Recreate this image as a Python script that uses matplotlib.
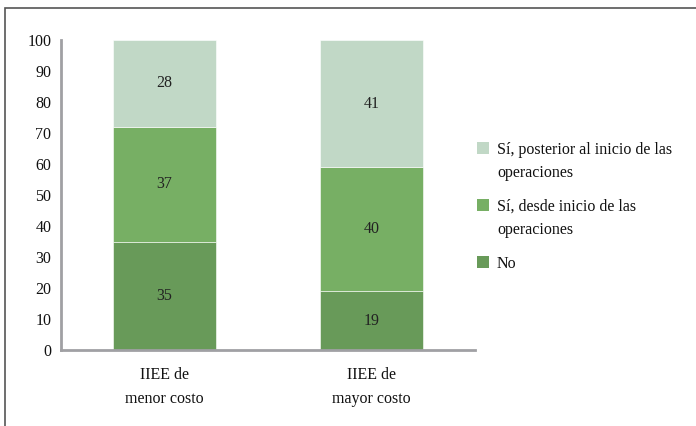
import matplotlib
matplotlib.use("Agg")
import matplotlib.pyplot as plt
from matplotlib.patches import Rectangle

categories = ["IIEE de\nmenor costo", "IIEE de\nmayor costo"]
series_names = ["No", "Sí, desde inicio de las\noperaciones", "Sí, posterior al inicio de las\noperaciones"]
no_vals = [35, 19]
desde_vals = [37, 40]
posterior_vals = [28, 41]
yticks = list(range(0, 101, 10))

colors = ["#689a59", "#77af64", "#c1d8c6"]

plt.rcParams["font.family"] = ["Liberation Serif", "DejaVu Serif"]
FS = 11.5
W, H = 696, 426

fig = plt.figure(figsize=(W / 100, H / 100), dpi=100)
ax = fig.add_axes([61 / W, 1 - 350 / H, (475 - 61) / W, (350 - 40) / H])

x = list(range(len(categories)))
bottoms = [0] * len(categories)
for vals, color, name in zip([no_vals, desde_vals, posterior_vals], colors, series_names):
    ax.bar(x, vals, width=0.5, bottom=bottoms, color=color, label=name,
           edgecolor="white", linewidth=0.4)
    for xi, b, v in zip(x, bottoms, vals):
        ax.text(xi, b + v / 2, str(v), ha="center", va="center", fontsize=FS, color="#222222")
    bottoms = [b + v for b, v in zip(bottoms, vals)]

ax.set_xlim(-0.5, 1.5)
ax.set_ylim(0, 100)
ax.set_yticks(yticks)
ax.set_xticks(x)
ax.set_xticklabels(categories, linespacing=1.65)
ax.tick_params(axis="both", length=0, labelsize=FS, colors="#111111")
ax.tick_params(axis="y", pad=7)
ax.tick_params(axis="x", pad=12.5)
for side in ["top", "right"]:
    ax.spines[side].set_visible(False)
for side in ["left", "bottom"]:
    ax.spines[side].set_color("#a0a0a4")
    ax.spines[side].set_linewidth(2)

# Legend: swatch beside the first line of each (possibly wrapped) label
y_px = 148
line_step, entry_gap = 23, 34
for name, color in zip(series_names[::-1], colors[::-1]):
    fig.patches.append(Rectangle((477 / W, 1 - (y_px + 6) / H), 12 / W, 12 / H,
                                 transform=fig.transFigure, facecolor=color, edgecolor="none"))
    lines = name.split("\n")
    for i, line in enumerate(lines):
        fig.text(497 / W, 1 - (y_px + i * line_step) / H, line, fontsize=FS,
                 color="#111111", ha="left", va="center_baseline")
    y_px += (len(lines) - 1) * line_step + entry_gap

# Outer frame
fig.patches.append(Rectangle((5 / W, -0.05), 1.1, 1 - 7.5 / H + 0.05,
                             transform=fig.transFigure, fill=False,
                             edgecolor="#555555", linewidth=1.2))

fig.savefig("out.png", dpi=100)
